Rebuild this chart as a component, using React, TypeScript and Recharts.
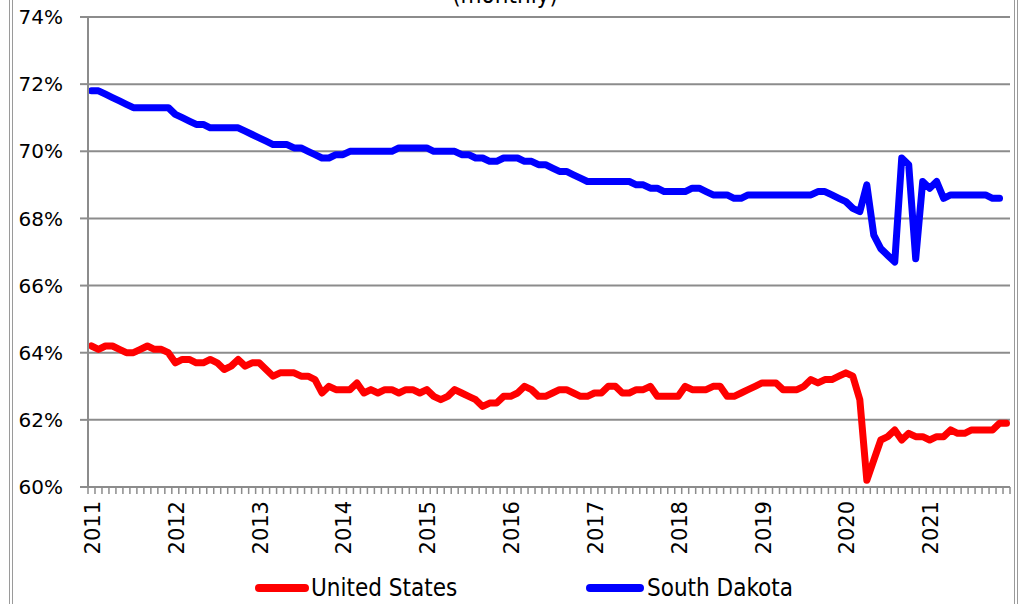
import { LineChart, Line, XAxis, YAxis, CartesianGrid } from 'recharts';

// Labor force participation rate, monthly, Jan 2011 - Dec 2021
const years = ['2011', '2012', '2013', '2014', '2015', '2016', '2017', '2018', '2019', '2020', '2021'];

const usRate = [
  64.2, 64.1, 64.2, 64.2, 64.1, 64.0, 64.0, 64.1, 64.2, 64.1, 64.1, 64.0,
  63.7, 63.8, 63.8, 63.7, 63.7, 63.8, 63.7, 63.5, 63.6, 63.8, 63.6, 63.7,
  63.7, 63.5, 63.3, 63.4, 63.4, 63.4, 63.3, 63.3, 63.2, 62.8, 63.0, 62.9,
  62.9, 62.9, 63.1, 62.8, 62.9, 62.8, 62.9, 62.9, 62.8, 62.9, 62.9, 62.8,
  62.9, 62.7, 62.6, 62.7, 62.9, 62.8, 62.7, 62.6, 62.4, 62.5, 62.5, 62.7,
  62.7, 62.8, 63.0, 62.9, 62.7, 62.7, 62.8, 62.9, 62.9, 62.8, 62.7, 62.7,
  62.8, 62.8, 63.0, 63.0, 62.8, 62.8, 62.9, 62.9, 63.0, 62.7, 62.7, 62.7,
  62.7, 63.0, 62.9, 62.9, 62.9, 63.0, 63.0, 62.7, 62.7, 62.8, 62.9, 63.0,
  63.1, 63.1, 63.1, 62.9, 62.9, 62.9, 63.0, 63.2, 63.1, 63.2, 63.2, 63.3,
  63.4, 63.3, 62.6, 60.2, 60.8, 61.4, 61.5, 61.7, 61.4, 61.6, 61.5, 61.5,
  61.4, 61.5, 61.5, 61.7, 61.6, 61.6, 61.7, 61.7, 61.7, 61.7, 61.9, 61.9,
];

const sdRate = [
  71.8, 71.8, 71.7, 71.6, 71.5, 71.4, 71.3, 71.3, 71.3, 71.3, 71.3, 71.3,
  71.1, 71.0, 70.9, 70.8, 70.8, 70.7, 70.7, 70.7, 70.7, 70.7, 70.6, 70.5,
  70.4, 70.3, 70.2, 70.2, 70.2, 70.1, 70.1, 70.0, 69.9, 69.8, 69.8, 69.9,
  69.9, 70.0, 70.0, 70.0, 70.0, 70.0, 70.0, 70.0, 70.1, 70.1, 70.1, 70.1,
  70.1, 70.0, 70.0, 70.0, 70.0, 69.9, 69.9, 69.8, 69.8, 69.7, 69.7, 69.8,
  69.8, 69.8, 69.7, 69.7, 69.6, 69.6, 69.5, 69.4, 69.4, 69.3, 69.2, 69.1,
  69.1, 69.1, 69.1, 69.1, 69.1, 69.1, 69.0, 69.0, 68.9, 68.9, 68.8, 68.8,
  68.8, 68.8, 68.9, 68.9, 68.8, 68.7, 68.7, 68.7, 68.6, 68.6, 68.7, 68.7,
  68.7, 68.7, 68.7, 68.7, 68.7, 68.7, 68.7, 68.7, 68.8, 68.8, 68.7, 68.6,
  68.5, 68.3, 68.2, 69.0, 67.5, 67.1, 66.9, 66.7, 69.8, 69.6, 66.8, 69.1,
  68.9, 69.1, 68.6, 68.7, 68.7, 68.7, 68.7, 68.7, 68.7, 68.6, 68.6,
];

const yTicks = [60, 62, 64, 66, 68, 70, 72, 74];

const data = usRate.map((us, i) => ({ i, us, sd: sdRate[i] ?? null }));

// tick marks sit between the months, like Excel's "between tick marks"
const monthTicks = [...usRate.map((_, i) => i - 0.5), usRate.length - 0.5];

const gridGray = '#8c8c8c';
const tickFont = '"DejaVu Sans", Verdana, sans-serif';
const textFont = '"DejaVu Sans Condensed", "Liberation Sans Narrow", "Open Sans", sans-serif';

function YearTick({ x, y, payload }: any) {
  const k = payload.value + 0.5;
  if (k % 12 !== 0 || k / 12 >= years.length) return <g />;
  const cx = x + 5;
  return (
    <text
      x={cx}
      y={y}
      transform={`rotate(-90, ${cx}, ${y})`}
      textAnchor="end"
      dominantBaseline="central"
      fontSize={21}
      fontFamily={tickFont}
      fill="#000"
    >
      {years[k / 12]}
    </text>
  );
}

export default function App() {
  return (
    <div style={{ position: 'absolute', left: 0, top: 0, width: 1021, height: 604, background: '#fff', overflow: 'hidden' }}>
      <div style={{ position: 'absolute', left: 9, top: 0, width: 2, height: 604, borderLeft: '1px solid #9a9a9a', borderRight: '1px solid #9a9a9a' }} />
      <div style={{ position: 'absolute', left: 1014, top: 0, width: 2, height: 604, borderLeft: '1px solid #9a9a9a', borderRight: '1px solid #9a9a9a' }} />

      <div
        style={{
          position: 'absolute',
          left: 0,
          width: 1010,
          top: -18,
          textAlign: 'center',
          fontFamily: textFont,
          fontSize: 24,
          lineHeight: '26px',
          color: '#000',
        }}
      >
        (monthly)
      </div>

      <LineChart width={1021} height={604} data={data} margin={{ top: 17, right: 11, left: 0, bottom: 0 }}>
        <CartesianGrid vertical={false} stroke={gridGray} strokeWidth={2} />
        <XAxis
          dataKey="i"
          type="number"
          domain={[-0.5, usRate.length - 0.5]}
          ticks={monthTicks}
          interval={0}
          height={117}
          tickSize={7}
          tickMargin={7}
          tick={<YearTick />}
          axisLine={{ stroke: gridGray, strokeWidth: 2 }}
          tickLine={{ stroke: gridGray, strokeWidth: 1.5 }}
        />
        <YAxis
          domain={[60, 74]}
          ticks={yTicks}
          interval={0}
          width={88}
          tickSize={8}
          tickMargin={17}
          tickFormatter={(v: number) => `${v}%`}
          tick={{ fontSize: 20, fontFamily: tickFont, fill: '#000' }}
          axisLine={{ stroke: gridGray, strokeWidth: 2 }}
          tickLine={{ stroke: gridGray, strokeWidth: 2 }}
        />
        <Line
          type="linear"
          dataKey="us"
          stroke="#ff0000"
          strokeWidth={7}
          strokeLinejoin="round"
          strokeLinecap="round"
          dot={false}
          isAnimationActive={false}
        />
        <Line
          type="linear"
          dataKey="sd"
          stroke="#0000ff"
          strokeWidth={7}
          strokeLinejoin="round"
          strokeLinecap="round"
          dot={false}
          isAnimationActive={false}
        />
      </LineChart>

      <div
        style={{
          position: 'absolute',
          top: 574,
          left: 0,
          width: 1021,
          height: 30,
          fontFamily: textFont,
          fontSize: 24,
          color: '#000',
        }}
      >
        <div style={{ position: 'absolute', left: 255, top: 10, width: 54, height: 8, borderRadius: 4, background: '#ff0000' }} />
        <span style={{ position: 'absolute', left: 311, top: 0, lineHeight: '28px' }}>United States</span>
        <div style={{ position: 'absolute', left: 586, top: 10, width: 58, height: 8, borderRadius: 4, background: '#0000ff' }} />
        <span style={{ position: 'absolute', left: 647, top: 0, lineHeight: '28px' }}>South Dakota</span>
      </div>
    </div>
  );
}
